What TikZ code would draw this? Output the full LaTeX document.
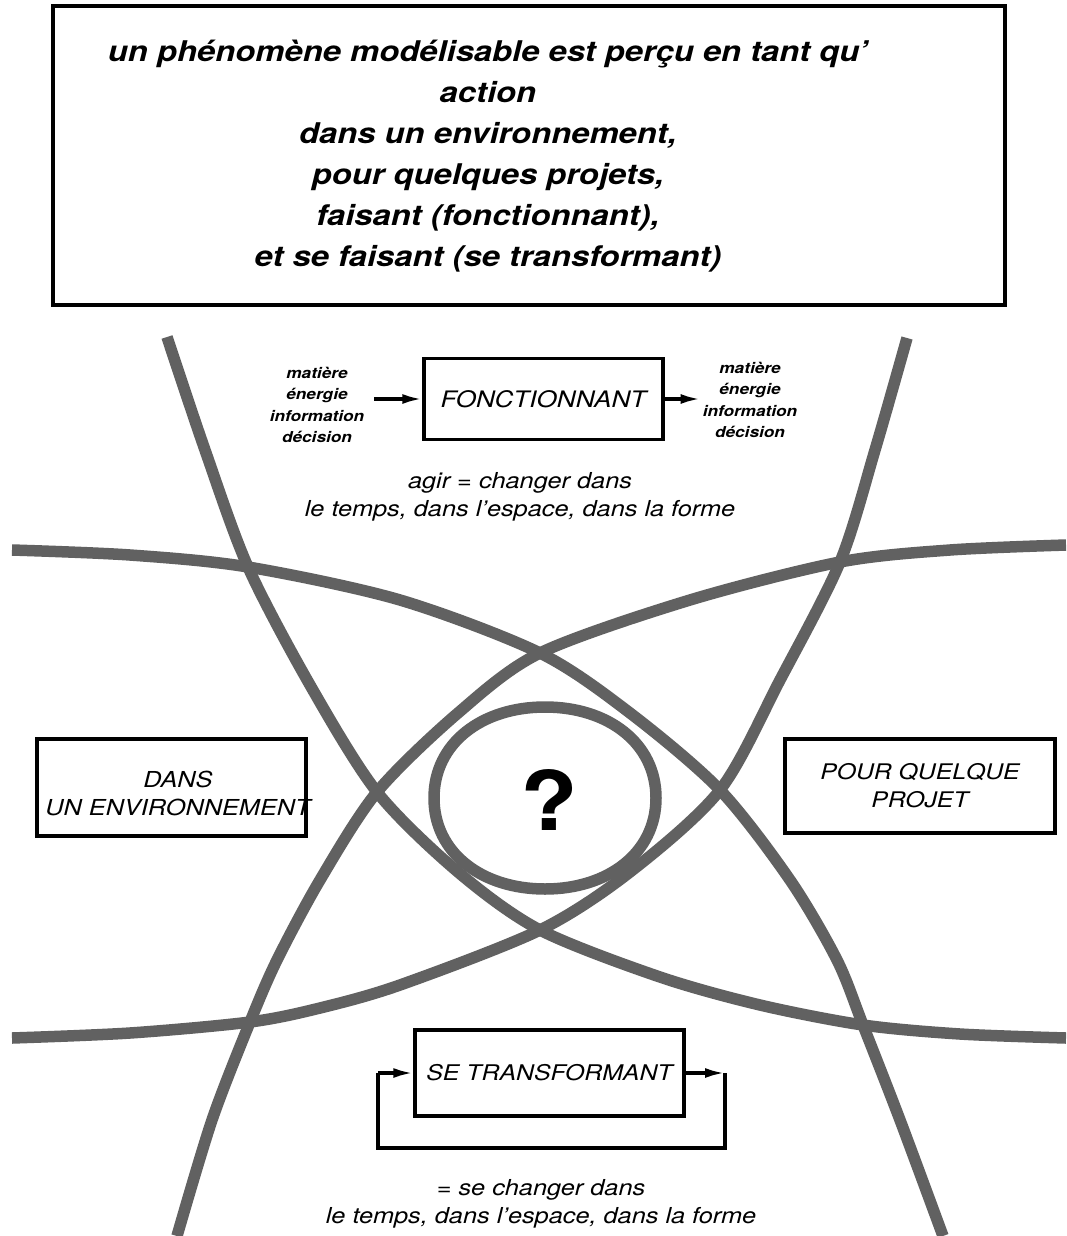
\documentclass[tikz,border=0pt]{standalone}
\usepackage{fontspec}
\setmainfont{TeX Gyre Heros}[FakeStretch=1.15]
\usetikzlibrary{arrows.meta,shapes.geometric}
\begin{document}
\begin{tikzpicture}[x=1pt,y=-1pt,
  curve/.style={draw=black!62, line width=11.5pt},
  frame/.style={draw=black, line width=3.4pt, inner sep=0pt},
  lbl/.style={font=\fontsize{22}{28}\selectfont\itshape, align=center, inner sep=0pt},
  title/.style={font=\fontsize{28.5}{41}\selectfont\bfseries\itshape, align=center, inner sep=0pt},
  small/.style={font=\fontsize{15}{21.5}\selectfont\bfseries\itshape, align=center, inner sep=2pt},
  arr/.style={line width=3.4pt, -{Latex[length=20pt,width=10pt]}},
  wire/.style={line width=3.4pt}]
\useasboundingbox (0,0) rectangle (1066,1236);
\fill[white] (0,0) rectangle (1066,1236);

% four crossing curves
\draw[curve] plot[smooth] coordinates {(12,550) (130,555) (248,567) (400,600) (540,653) (630,713) (720,790) (790,880) (837,960) (863,1025) (900,1120) (943,1236)};
\draw[curve] plot[smooth] coordinates {(1066,545) (950,550) (840,562) (690,600) (540,653) (458,713) (377,792) (320,880) (277,960) (250,1022) (212,1120) (177,1236)};
\draw[curve] plot[smooth] coordinates {(167,337) (205,450) (248,567) (310,685) (377,792) (458,872) (540,930) (660,977) (760,1005) (863,1025) (960,1034) (1066,1038)};
\draw[curve] plot[smooth] coordinates {(907,338) (875,450) (840,562) (780,680) (720,790) (630,872) (540,930) (400,985) (320,1008) (250,1022) (130,1033) (12,1038)};

% central oval with question mark
\node[inner sep=0pt, font=\fontsize{82}{82}\selectfont\bfseries] (q) at (549,800) {?};
\draw[curve] (656,798) .. controls (656,853) and (608,889) .. (545,889)
  .. controls (482,889) and (434,853) .. (434,798)
  .. controls (434,743) and (482,707) .. (545,707)
  .. controls (608,707) and (656,743) .. (656,798) -- cycle;

% top box
\node[frame, minimum width=952pt, minimum height=299pt] (top) at (529,155.5) {};
\node[title] (toptext) at (488,156) {un phénomène modélisable est perçu en tant qu'\\action\\dans un environnement,\\pour quelques projets,\\faisant (fonctionnant),\\et se faisant (se transformant)};

% fonctionnant
\node[frame, minimum width=239pt, minimum height=81pt, font=\fontsize{22.7}{28}\selectfont\itshape] (fonc) at (543.5,399) {FONCTIONNANT};
\node[small] (in) at (317,405) {matière\\énergie\\information\\décision};
\node[small] (out) at (750,400) {matière\\énergie\\information\\décision};
\coordinate (inA) at (374,399);
\draw[arr] (inA) -- (fonc.west);
\draw[arr] (fonc.east) -- (out.west |- fonc.east);
\node[lbl] (agir) at (520,497) {agir = changer dans\\le temps, dans l'espace, dans la forme};

% side boxes
\node[frame, minimum width=269pt, minimum height=97pt] (env) at (171.5,787.5) {};
\node[lbl] (envt) at (178,793) {DANS\\UN ENVIRONNEMENT};
\node[frame, minimum width=270pt, minimum height=94pt, font=\fontsize{21.5}{28}\selectfont\itshape, align=center] (proj) at (920,786) {POUR QUELQUE\\PROJET};

% se transformant
\node[frame, minimum width=269pt, minimum height=86pt, font=\fontsize{21.6}{28}\selectfont\itshape] (tr) at (549.5,1073) {SE TRANSFORMANT};
\coordinate (r1) at (725,1073);
\coordinate (r2) at (725,1148);
\coordinate (l2) at (378,1148);
\coordinate (l1) at (378,1073);
\draw[arr] (tr.east) -- (r1);
\draw[wire, line join=miter] (r1) -- (r2) -- (l2) -- (l1);
\draw[arr] (l1) -- (tr.west);
\node[lbl] (sech) at (541,1204) {= se changer dans\\le temps, dans l'espace, dans la forme};
\end{tikzpicture}
\end{document}
